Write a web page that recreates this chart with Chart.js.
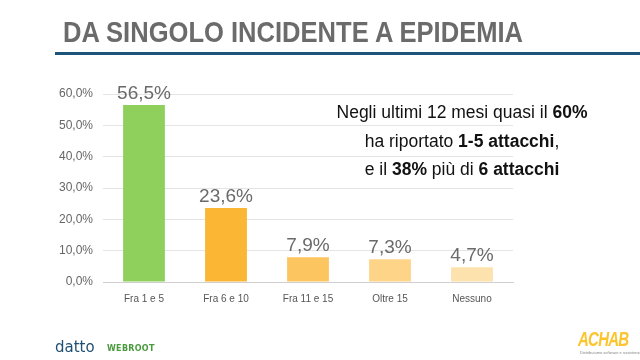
<!DOCTYPE html>
<html>
<head>
<meta charset="utf-8">
<script src="https://cdn.jsdelivr.net/npm/chart.js@4.4.1/dist/chart.umd.min.js"></script>
<style>
  html, body { margin: 0; padding: 0; background: #fff; }
  #page { position: relative; width: 640px; height: 360px; overflow: hidden; background: #fff; }
  #chartWrap { position: absolute; left: 0; top: 0; width: 640px; height: 360px; }
  #title {
    position: absolute; left: 63px; top: 15px;
    font-family: "Liberation Sans", Arial, sans-serif;
    font-weight: bold; font-size: 30px; color: #6b6b6b; white-space: nowrap;
    transform-origin: 0 0;
  }
  #rule { position: absolute; left: 55px; top: 52px; width: 585px; height: 3px; background: #1d5479; }
  #note {
    position: absolute; left: 312px; top: 98px; width: 300px; text-align: center;
    font-family: "Liberation Sans", Arial, sans-serif; font-size: 17.5px; line-height: 28.5px; color: #111;
  }
  #datto { position: absolute; left: 55px; top: 338px; font-family: "DejaVu Sans", sans-serif; font-size: 15px; color: #1f4f73; }
  #webroot { position: absolute; left: 107px; top: 344px; font-family: "DejaVu Sans", sans-serif; font-weight: bold; font-size: 8px; letter-spacing: 0.3px; color: #4a9a3e; }
  #achab {
    position: absolute; left: 578px; top: 328px; font-family: "Liberation Sans", sans-serif;
    font-weight: bold; font-style: italic; font-size: 20px; color: #fcc42d; letter-spacing: -1px;
    transform: scaleX(0.75); transform-origin: 0 0;
  }
  #achabSub { position: absolute; left: 580px; top: 350px; font-family: "Liberation Sans", sans-serif; font-size: 4px; color: #888; white-space: nowrap; }
</style>
</head>
<body>
<div id="page">
  <div id="chartWrap"><canvas id="chart"></canvas></div>
  <div id="title">DA SINGOLO INCIDENTE A EPIDEMIA</div>
  <div id="rule"></div>
  <div id="note">
    Negli ultimi 12 mesi quasi il <b>60%</b><br>
    ha riportato <b>1-5 attacchi</b>,<br>
    e il <b>38%</b> più di <b>6 attacchi</b>
  </div>
  <div id="datto">datto</div>
  <div id="webroot">WEBROOT</div>
  <div id="achab">ACHAB</div>
  <div id="achabSub">Distribuiamo software e assistenza</div>
</div>
<script>
const categories = ['Fra 1 e 5', 'Fra 6 e 10', 'Fra 11 e 15', 'Oltre 15', 'Nessuno'];
const values = [56.5, 23.6, 7.9, 7.3, 4.7];
const barColors = ['#8fd05d', '#fbb634', '#fdc55f', '#fed488', '#fee2ad'];
const yTicks = [0, 10, 20, 30, 40, 50, 60];

function formatPct(v) {
  return v.toFixed(1).replace('.', ',') + '%';
}

// squeeze the title to the condensed width of the original
const title = document.getElementById('title');
title.style.transform = 'scaleX(' + (460 / title.offsetWidth) + ')';

// draws the value above each bar
const valueLabels = {
  id: 'valueLabels',
  afterDatasetsDraw(chart) {
    const ctx = chart.ctx;
    const meta = chart.getDatasetMeta(0);
    ctx.save();
    ctx.font = '19px "Liberation Sans", Arial, sans-serif';
    ctx.fillStyle = '#6a6a6a';
    ctx.textAlign = 'center';
    ctx.textBaseline = 'bottom';
    meta.data.forEach(function (bar, i) {
      ctx.fillText(formatPct(values[i]), bar.x, bar.y - 2);
    });
    ctx.restore();
  }
};

const ctx = document.getElementById('chart').getContext('2d');
new Chart(ctx, {
  type: 'bar',
  data: {
    labels: categories,
    datasets: [{
      data: values,
      backgroundColor: barColors,
      borderWidth: 0,
      categoryPercentage: 1,
      barPercentage: 0.51
    }]
  },
  options: {
    responsive: true,
    maintainAspectRatio: false,
    animation: false,
    layout: { padding: { left: 53, right: 127, top: 94, bottom: 48 } },
    plugins: {
      legend: { display: false },
      tooltip: { enabled: false }
    },
    scales: {
      x: {
        grid: { display: false },
        border: { color: '#cfcfcf', width: 1 },
        ticks: { color: '#555', font: { family: 'Liberation Sans', size: 10 }, padding: 3 },
        afterFit: function (scale) { scale.height = 30; }
      },
      y: {
        min: 0,
        max: 60,
        afterBuildTicks: function (scale) { scale.ticks = yTicks.map(function (v) { return { value: v }; }); },
        grid: { color: '#e4e4e4', drawTicks: false },
        border: { display: false },
        ticks: {
          color: '#666',
          font: { family: 'Liberation Sans', size: 12 },
          padding: 10,
          callback: function (v) { return formatPct(v); }
        },
        afterFit: function (scale) { scale.width = 50; }
      }
    }
  },
  plugins: [valueLabels]
});
</script>
</body>
</html>
